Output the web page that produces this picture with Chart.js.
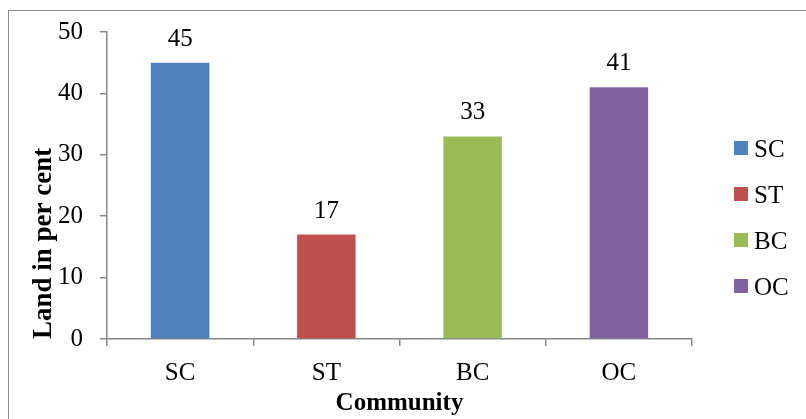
<!DOCTYPE html>
<html>
<head>
<meta charset="utf-8">
<script src="https://cdn.jsdelivr.net/npm/chart.js@4"></script>
<style>
  html, body { margin: 0; padding: 0; background: #fff; overflow: hidden; }
  #wrap { position: relative; width: 806px; height: 419px; overflow: hidden; }
  #frame { position: absolute; left: 8px; top: 10px; width: 900px; height: 500px; border: 1.5px solid #8c8c8c; pointer-events: none; }
</style>
</head>
<body>
<div id="wrap">
  <canvas id="chart" width="806" height="419"></canvas>
  <div id="frame"></div>
</div>
<script>
// chart data
const communities = ['SC', 'ST', 'BC', 'OC'];
const landShare = [45, 17, 33, 41];
const barColors = ['#4F81BD', '#C0504D', '#9BBB59', '#8064A2'];
const yTicks = [0, 10, 20, 30, 40, 50];

const serif = "'Liberation Serif', 'Times New Roman', serif";
const axisGrey = '#868686';
const fontSize = 25;

// numbers on top of bars
const valueLabels = {
    id: 'valueLabels',
    afterDatasetsDraw(chart) {
        const ctx = chart.ctx;
        const meta = chart.getDatasetMeta(0);
        ctx.save();
        ctx.font = fontSize + 'px ' + serif;
        ctx.fillStyle = '#000';
        ctx.textAlign = 'center';
        ctx.textBaseline = 'alphabetic';
        meta.data.forEach((bar, i) => {
            ctx.fillText(String(landShare[i]), bar.x, bar.y - 17);
        });
        ctx.restore();
    }
};

// legend on the right, one square per category
const sideLegend = {
    id: 'sideLegend',
    afterDraw(chart) {
        const ctx = chart.ctx;
        const area = chart.chartArea;
        const x = area.right + 42;
        const top = 148;
        const step = 46;
        ctx.save();
        ctx.font = fontSize + 'px ' + serif;
        ctx.textAlign = 'left';
        ctx.textBaseline = 'alphabetic';
        communities.forEach((c, i) => {
            const y = top + i * step;
            ctx.fillStyle = barColors[i];
            ctx.fillRect(x, y - 7, 14, 14);
            ctx.fillStyle = '#000';
            ctx.fillText(c, x + 20, y + 9);
        });
        ctx.restore();
    }
};

new Chart(document.getElementById('chart'), {
    type: 'bar',
    data: {
        labels: communities,
        datasets: [{
            data: landShare,
            backgroundColor: barColors,
            borderWidth: 0,
            categoryPercentage: 0.8,
            barPercentage: 0.5
        }]
    },
    options: {
        responsive: false,
        animation: false,
        layout: { padding: { left: 28, top: 32, right: 114, bottom: 0 } },
        scales: {
            y: {
                min: 0,
                max: 50,
                afterBuildTicks: (scale) => { scale.ticks = yTicks.map(v => ({ value: v })); },
                ticks: { color: '#000', font: { family: serif, size: fontSize }, padding: 17 },
                grid: { drawOnChartArea: false, drawTicks: true, tickLength: 7, color: axisGrey, lineWidth: 1.5 },
                border: { color: axisGrey, width: 1.5 },
                title: {
                    display: true,
                    text: 'Land in per cent',
                    align: 'start',
                    color: '#000',
                    font: { family: serif, size: 27, weight: 'bold' },
                    padding: 0
                },
                afterFit: (scale) => { scale.width = 79; }
            },
            x: {
                ticks: { color: '#000', font: { family: serif, size: fontSize }, padding: 12 },
                grid: { drawOnChartArea: false, drawTicks: true, tickLength: 7, color: axisGrey, lineWidth: 1.5, offset: true },
                border: { color: axisGrey, width: 1.5 },
                title: {
                    display: true,
                    text: 'Community',
                    color: '#000',
                    font: { family: serif, size: fontSize, weight: 'bold' },
                    padding: 0
                },
                afterFit: (scale) => { scale.height = 80; }
            }
        },
        plugins: {
            legend: { display: false },
            tooltip: { enabled: false }
        }
    },
    plugins: [valueLabels, sideLegend]
});
</script>
</body>
</html>
